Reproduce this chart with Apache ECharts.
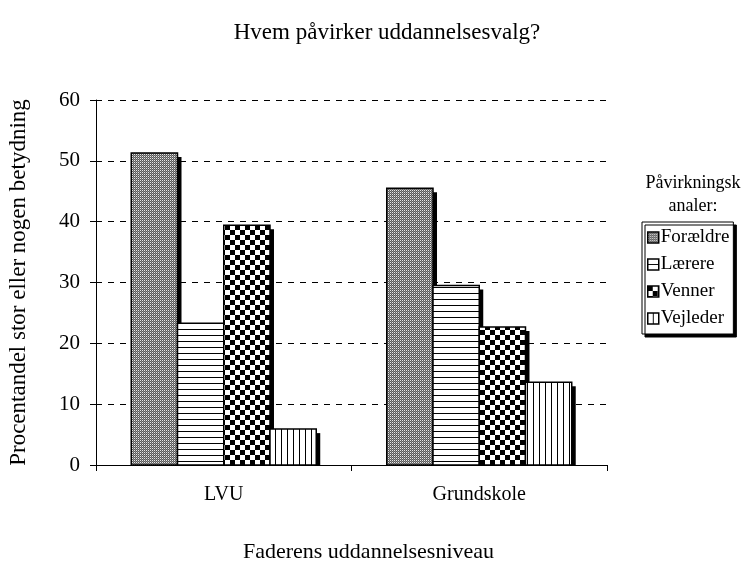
<!DOCTYPE html>
<html>
<head>
<meta charset="utf-8">
<script src="https://cdn.jsdelivr.net/npm/echarts@6/dist/echarts.min.js"></script>
<style>
  html, body { margin: 0; padding: 0; background: #fff; }
  #chart { width: 743px; height: 563px; }
</style>
</head>
<body>
<div id="chart"></div>
<script>
const categories = ["LVU", "Grundskole"];
const seriesNames = ["Forældre", "Lærere", "Venner", "Vejleder"];
const foraeldre = [51.3, 45.5];
const laerere = [23.3, 29.5];
const venner = [39.4, 22.7];
const vejleder = [5.9, 13.6];
const yTicks = [0, 10, 20, 30, 40, 50, 60];

// small canvas tiles for the hatch fills
function makeTile(kind) {
  const c = document.createElement("canvas");
  const ctx = c.getContext("2d");
  if (kind === "dots") {
    c.width = 2; c.height = 2;
    ctx.fillStyle = "#5a5a5a"; ctx.fillRect(0, 0, 2, 2);
    ctx.fillStyle = "#e8e8e8"; ctx.fillRect(0, 0, 1, 1);
    ctx.fillStyle = "#8c8c8c"; ctx.fillRect(1, 1, 1, 1);
  } else if (kind === "hlines") {
    c.width = 6; c.height = 6;
    ctx.fillStyle = "#fff"; ctx.fillRect(0, 0, 6, 6);
    ctx.fillStyle = "#000"; ctx.fillRect(0, 5, 6, 1);
  } else if (kind === "checker") {
    c.width = 10; c.height = 10;
    ctx.fillStyle = "#fff"; ctx.fillRect(0, 0, 10, 10);
    ctx.fillStyle = "#000"; ctx.fillRect(0, 0, 5, 5); ctx.fillRect(5, 5, 5, 5);
  } else {
    c.width = 6; c.height = 6;
    ctx.fillStyle = "#fff"; ctx.fillRect(0, 0, 6, 6);
    ctx.fillStyle = "#000"; ctx.fillRect(5, 0, 1, 6);
  }
  return { image: c, repeat: "repeat" };
}

const fills = [makeTile("dots"), makeTile("hlines"), makeTile("checker"), makeTile("vlines")];
const values = [foraeldre, laerere, venner, vejleder];

const font = "'Liberation Serif', 'Times New Roman', serif";
const groupShare = 0.724;

// bar with a hard black drop shadow on its right side
function barRenderer(s) {
  return function (params, api) {
    const cat = api.value(0);
    const top = api.coord([cat, api.value(1)]);
    const base = api.coord([cat, 0]);
    const groupW = api.size([1, 0])[0] * groupShare;
    const barW = groupW / seriesNames.length;
    const x = top[0] - groupW / 2 + s * barW;
    const h = base[1] - top[1];
    return {
      type: "group",
      children: [
        {
          type: "rect",
          shape: { x: x + barW, y: top[1] + 4, width: 4, height: Math.max(0, h - 4) },
          style: { fill: "#000" },
        },
        {
          type: "rect",
          shape: { x: x, y: top[1], width: barW, height: h },
          style: { fill: fills[s], stroke: "#000", lineWidth: 1.5 },
        },
      ],
    };
  };
}

const myChart = echarts.init(document.getElementById("chart"));
const option = {
  animation: false,
  backgroundColor: "#fff",
  textStyle: { fontFamily: font, color: "#000" },
  title: [
    {
      text: "Hvem påvirker uddannelsesvalg?",
      left: 382,
      top: 16,
      textAlign: "center",
      textStyle: { fontFamily: font, fontSize: 23, fontWeight: "normal", color: "#000" },
    },
    {
      text: "Påvirkningsk\nanaler:",
      left: 688,
      top: 167,
      textAlign: "center",
      textStyle: { fontFamily: font, fontSize: 18, fontWeight: "normal", color: "#000", lineHeight: 23 },
    },
  ],
  legend: {
    orient: "vertical",
    left: 642,
    top: 222,
    padding: [6, 4, 6, 5],
    itemWidth: 11,
    itemHeight: 11,
    itemGap: 8,
    icon: "rect",
    backgroundColor: "#fff",
    borderColor: "#000",
    borderWidth: 1,
    shadowColor: "#000",
    shadowOffsetX: 3,
    shadowOffsetY: 3,
    shadowBlur: 0,
    itemStyle: { borderColor: "#000", borderWidth: 1.5 },
    textStyle: { fontFamily: font, fontSize: 19, color: "#000", padding: [0, 0, 0, -3] },
    data: seriesNames,
  },
  grid: { left: 96, right: 136, top: 100, bottom: 98, outerBoundsMode: "none" },
  xAxis: {
    type: "category",
    data: categories,
    name: "Faderens uddannelsesniveau",
    nameLocation: "middle",
    nameGap: 76,
    nameTextStyle: { fontFamily: font, fontSize: 22, color: "#000", padding: [0, 0, 0, 34] },
    axisLine: { lineStyle: { color: "#000", width: 1 } },
    axisTick: { show: true, length: 6, lineStyle: { color: "#000" } },
    axisLabel: { fontFamily: font, fontSize: 20, color: "#000", margin: 20 },
  },
  yAxis: {
    type: "value",
    min: yTicks[0],
    max: yTicks[yTicks.length - 1],
    interval: 10,
    name: "Procentandel stor eller nogen betydning",
    nameLocation: "middle",
    nameGap: 66,
    nameRotate: 90,
    nameTextStyle: { fontFamily: font, fontSize: 23, color: "#000" },
    axisLine: { show: true, lineStyle: { color: "#000", width: 1 } },
    axisTick: { show: true, length: 6, lineStyle: { color: "#000" } },
    axisLabel: { fontFamily: font, fontSize: 21, color: "#000", margin: 16 },
    splitLine: { lineStyle: { color: "#000", type: [6, 6], width: 1 } },
  },
  series: seriesNames.map((name, i) => ({
    name: name,
    type: "custom",
    renderItem: barRenderer(i),
    encode: { x: 0, y: 1 },
    data: values[i].map((v, k) => [k, v]),
    itemStyle: { color: fills[i], borderColor: "#000", borderWidth: 1 },
    z: 3,
  })),
};
myChart.setOption(option);
</script>
</body>
</html>
